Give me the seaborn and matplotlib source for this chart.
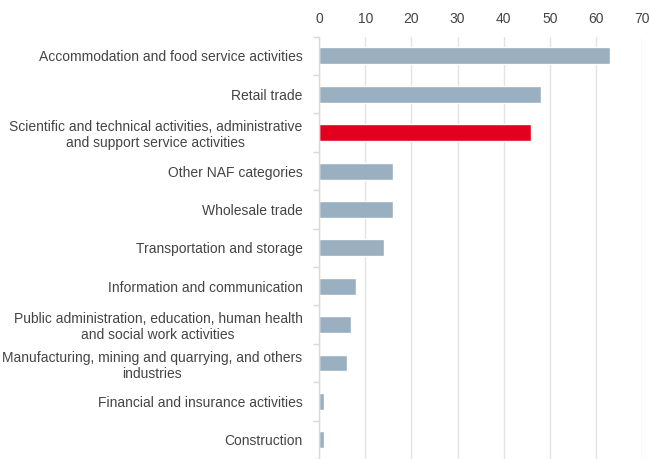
import matplotlib
matplotlib.use("Agg")
import matplotlib.pyplot as plt
import seaborn as sns
import pandas as pd
import numpy as np

categories = [
    "Accommodation and food service activities",
    "Retail trade",
    "Scientific and technical activities, administrative\nand support service activities",
    "Other NAF categories",
    "Wholesale trade",
    "Transportation and storage",
    "Information and communication",
    "Public administration, education, human health\nand social work activities",
    "Manufacturing, mining and quarrying, and others\nindustries",
    "Financial and insurance activities",
    "Construction",
]
values = [63, 48, 46, 16, 16, 14, 8, 7, 6, 1, 1]
highlight = "Scientific and technical activities, administrative\nand support service activities"
xticks = [0, 10, 20, 30, 40, 50, 60, 70]

df = pd.DataFrame({"category": categories, "value": values})
df["group"] = ["hi" if c == highlight else "base" for c in categories]

sns.set_style("white")
plt.rcParams["font.family"] = ["Liberation Sans", "DejaVu Sans"]

fig = plt.figure(figsize=(6.5, 4.59), dpi=100)
ax = fig.add_axes([0.491, 0.0, 0.497, 0.92])

sns.barplot(data=df, y="category", x="value", hue="group",
            palette={"base": "#9aafc0", "hi": "#e3001f"},
            order=categories, orient="h", width=0.44, legend=False,
            dodge=False, ax=ax, saturation=1)

ax.set_xlim(0, 70)
ax.set_ylim(10.38, -0.5)
ax.set_xticks(xticks)
ax.set_xticklabels([str(t) for t in xticks])
ax.xaxis.tick_top()
ax.tick_params(axis="x", length=0, pad=8, labelsize=10, labelcolor="#444444")
ax.tick_params(axis="y", length=0, pad=12, labelsize=10, labelcolor="#444444")
for lbl in ax.get_yticklabels():
    lbl.set_multialignment("center")
ax.set_yticks(np.arange(-0.5, len(categories), 1), minor=True)
ax.tick_params(axis="y", which="minor", left=True, length=4, color="#d9d9d9", width=1)
ax.set_xlabel("")
ax.set_ylabel("")
ax.grid(axis="x", color="#e3e3e3", linewidth=1)
ax.set_axisbelow(True)
for s in ["top", "right", "bottom"]:
    ax.spines[s].set_visible(False)
ax.spines["left"].set_color("#d9d9d9")
ax.spines["left"].set_linewidth(1)

fig.savefig("out.png", dpi=100)
